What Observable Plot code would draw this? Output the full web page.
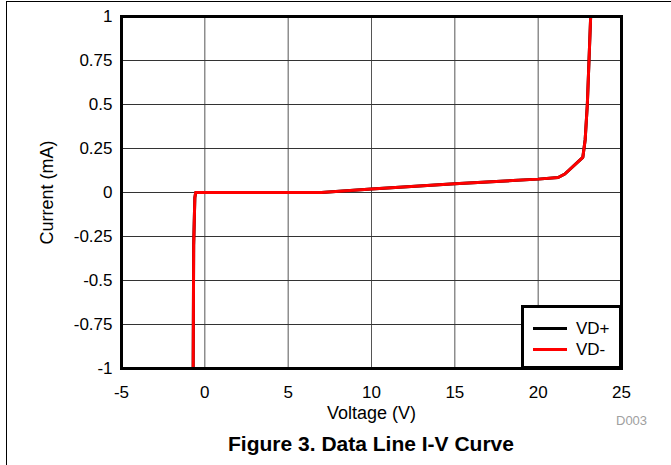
<!DOCTYPE html>
<html>
<head>
<meta charset="utf-8">
<script src="https://cdn.jsdelivr.net/npm/d3@7"></script>
<script src="https://cdn.jsdelivr.net/npm/@observablehq/plot@0.6"></script>
<style>
  html, body { margin: 0; padding: 0; background: #fff; }
  #wrap { position: relative; width: 671px; height: 465px; overflow: hidden; font-family: "Liberation Sans", Arial, sans-serif; }
  #frameTop { position: absolute; left: 6px; top: 1px; width: 680px; height: 0; border-top: 1.5px solid #000; }
  #frameLeft { position: absolute; left: 6px; top: 1px; width: 0; height: 480px; border-left: 1.5px solid #000; }
  #legend { position: absolute; left: 521px; top: 305px; width: 101px; height: 64px; box-sizing: border-box; border: 3px solid #000; background: #fff; }
  .sw { position: absolute; left: 9px; width: 34px; height: 3px; }
  .lt { position: absolute; left: 52px; font-size: 17px; line-height: 17px; color: #000; }
  #d003 { position: absolute; left: 616px; top: 413px; font-size: 13px; color: #a0a0a0; }
  #title { position: absolute; left: 121px; width: 500px; top: 432px; text-align: center; font-weight: bold; font-size: 21px; color: #000; }
  svg { position: absolute; left: 0; top: 0; }
</style>
</head>
<body>
<div id="wrap"></div>
<script>
// Series names
const seriesNames = ["VD+", "VD-"];
const seriesColors = ["#000000", "#ff0000"];

// VD+ (black, drawn under VD-)
const vdPlusVoltage = [-0.7, -0.67, -0.6, -0.55, 0, 7, 10, 15, 20, 21.2, 21.6, 22.68, 22.82, 22.95, 23.05, 23.15];
const vdPlusCurrent = [-1, -0.3, -0.03, 0, 0, 0, 0.02, 0.05, 0.076, 0.085, 0.105, 0.2, 0.3, 0.5, 0.75, 1];

// VD- (red)
const vdMinusVoltage = [-0.7, -0.67, -0.6, -0.55, 0, 7, 10, 15, 20, 21.2, 21.6, 22.68, 22.82, 22.95, 23.05, 23.15];
const vdMinusCurrent = [-1, -0.3, -0.03, 0, 0, 0, 0.02, 0.05, 0.076, 0.085, 0.105, 0.2, 0.3, 0.5, 0.75, 1];

// Axis ticks
const xTicks = [-5, 0, 5, 10, 15, 20, 25];
const yTicks = [-1, -0.75, -0.5, -0.25, 0, 0.25, 0.5, 0.75, 1];
const xTickLabels = ["-5", "0", "5", "10", "15", "20", "25"];
const yTickLabels = ["-1", "-0.75", "-0.5", "-0.25", "0", "0.25", "0.5", "0.75", "1"];

const rows = [
  ...vdPlusVoltage.map((v, i) => ({series: seriesNames[0], v, c: vdPlusCurrent[i]})),
  ...vdMinusVoltage.map((v, i) => ({series: seriesNames[1], v, c: vdMinusCurrent[i]}))
];

const chart = Plot.plot({
  width: 671,
  height: 465,
  marginLeft: 121,
  marginRight: 50,
  marginTop: 16,
  marginBottom: 97,
  style: {fontFamily: "Liberation Sans, Arial, sans-serif", fontSize: "17px", color: "#000", background: "transparent", overflow: "visible"},
  x: {domain: [-5, 25]},
  y: {domain: [-1, 1]},
  color: {domain: seriesNames, range: seriesColors},
  marks: [
    Plot.gridX(xTicks, {stroke: "#555", strokeOpacity: 1, strokeWidth: 1}),
    Plot.gridY(yTicks, {stroke: "#333", strokeOpacity: 1, strokeWidth: 1}),
    Plot.line(rows, {x: "v", y: "c", z: "series", stroke: "series", strokeWidth: 3}),
    Plot.frame({stroke: "#000", strokeWidth: 3}),
    Plot.axisX(xTicks, {tickSize: 0, tickPadding: 17, tickFormat: (d) => xTickLabels[xTicks.indexOf(d)], label: "Voltage (V)", labelAnchor: "center", labelArrow: "none", labelOffset: 50, fontSize: 17}),
    Plot.axisY(yTicks, {tickSize: 0, tickPadding: 9, tickFormat: (d) => yTickLabels[yTicks.indexOf(d)], label: "Current (mA)", labelAnchor: "center", labelArrow: "none", labelOffset: 81, fontSize: 17})
  ]
});

const wrap = document.getElementById("wrap");
wrap.appendChild(chart);
chart.querySelectorAll("[aria-label='x-axis label'] text, [aria-label='y-axis label'] text").forEach(t => t.setAttribute("font-size", "18px"));

wrap.insertAdjacentHTML("beforeend", `
  <div id="frameTop"></div>
  <div id="frameLeft"></div>
  <div id="legend">
    <div class="sw" style="top:19px;background:${seriesColors[0]}"></div>
    <div class="lt" style="top:12px">${seriesNames[0]}</div>
    <div class="sw" style="top:40px;background:${seriesColors[1]}"></div>
    <div class="lt" style="top:33px">${seriesNames[1]}</div>
  </div>
  <div id="d003">D003</div>
  <div id="title">Figure 3. Data Line I-V Curve</div>
`);
</script>
</body>
</html>
